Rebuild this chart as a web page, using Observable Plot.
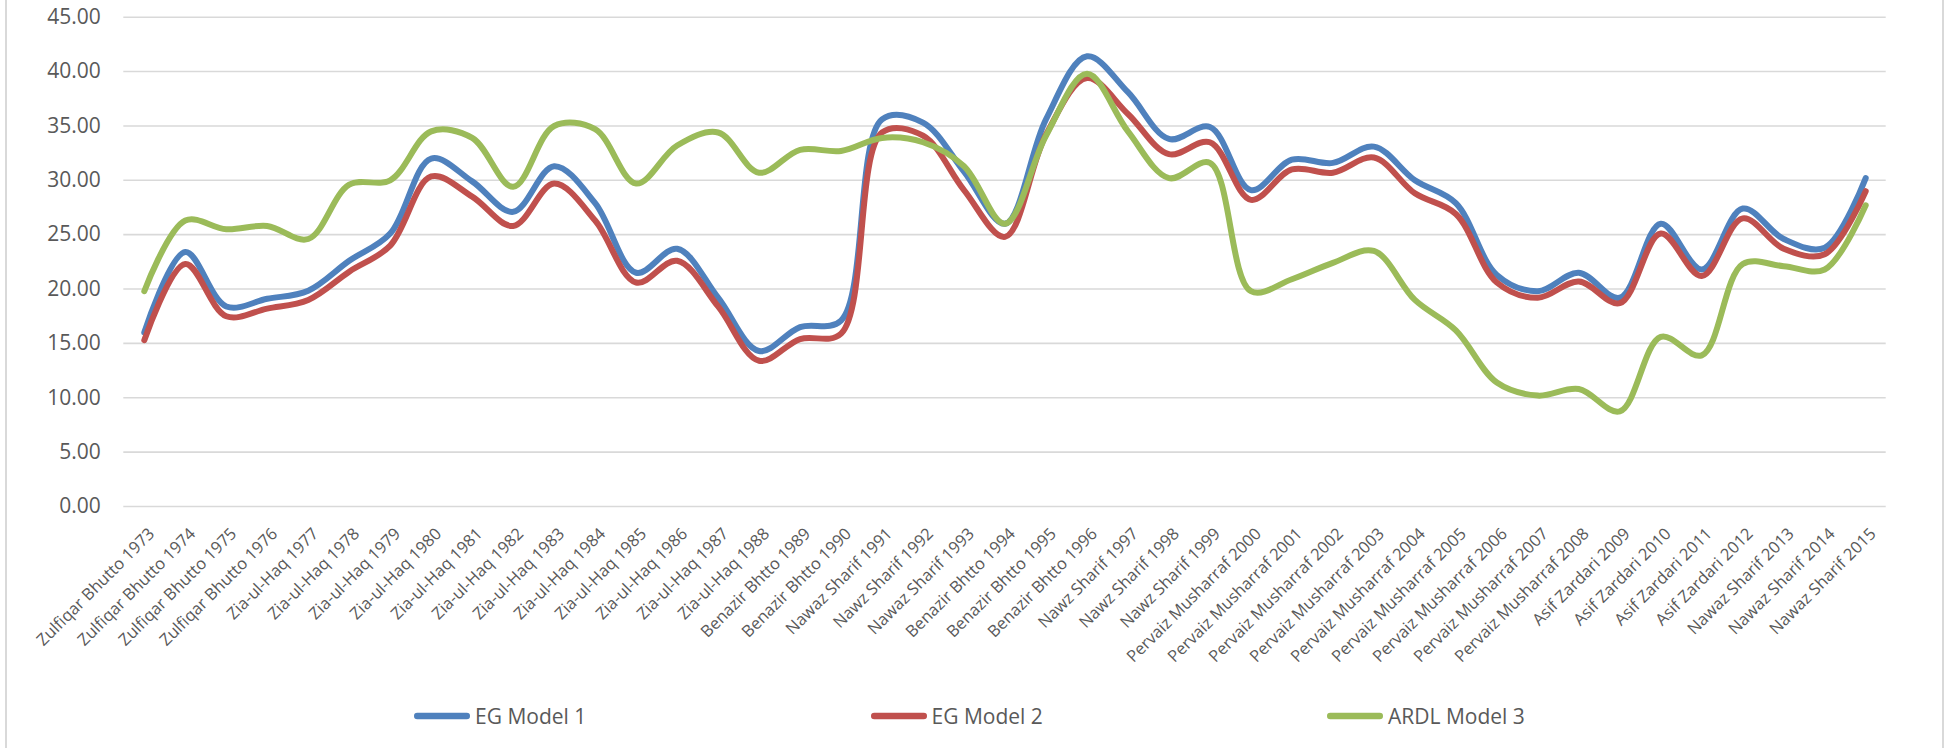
<!DOCTYPE html>
<html>
<head>
<meta charset="utf-8">
<script src="https://cdn.jsdelivr.net/npm/d3@7"></script>
<script src="https://cdn.jsdelivr.net/npm/@observablehq/plot@0.6"></script>
<style>
  html, body { margin: 0; padding: 0; background: #ffffff; }
  body { font-family: "Open Sans", sans-serif; }
  #wrap { position: relative; width: 1950px; height: 748px; overflow: hidden; }
  #frame { position: absolute; left: 5px; top: -2px; width: 1939px; height: 752px;
           box-sizing: border-box; border: 2px solid #d9d9d9; border-top: none; border-bottom: none; }
  #chart { position: absolute; left: 0; top: 0; }
  #legend { position: absolute; left: 414px; top: 700px; height: 32px; display: flex; }
  .item { width: 456.5px; display: flex; align-items: center; height: 32px; }
  .item span { font-size: 21px; color: #595959; margin-left: 5px; line-height: 32px; }
</style>
</head>
<body>
<div id="wrap">
  <div id="frame"></div>
  <div id="chart"></div>
  <div id="legend"></div>
</div>
<script>
const categories = [
  "Zulfiqar Bhutto 1973", "Zulfiqar Bhutto 1974", "Zulfiqar Bhutto 1975", "Zulfiqar Bhutto 1976",
  "Zia-ul-Haq 1977", "Zia-ul-Haq 1978", "Zia-ul-Haq 1979", "Zia-ul-Haq 1980", "Zia-ul-Haq 1981",
  "Zia-ul-Haq 1982", "Zia-ul-Haq 1983", "Zia-ul-Haq 1984", "Zia-ul-Haq 1985", "Zia-ul-Haq 1986",
  "Zia-ul-Haq 1987", "Zia-ul-Haq 1988", "Benazir Bhtto 1989", "Benazir Bhtto 1990",
  "Nawaz Sharif 1991", "Nawz Sharif 1992", "Nawaz Sharif 1993", "Benazir Bhtto 1994",
  "Benazir Bhtto 1995", "Benazir Bhtto 1996", "Nawz Sharif 1997", "Nawz Sharif 1998",
  "Nawz Sharif 1999", "Pervaiz Musharraf 2000", "Pervaiz Musharraf 2001", "Pervaiz Musharraf 2002",
  "Pervaiz Musharraf 2003", "Pervaiz Musharraf 2004", "Pervaiz Musharraf 2005", "Pervaiz Musharraf 2006",
  "Pervaiz Musharraf 2007", "Pervaiz Musharraf 2008", "Asif Zardari 2009", "Asif Zardari 2010",
  "Asif Zardari 2011", "Asif Zardari 2012", "Nawaz Sharif 2013", "Nawaz Sharif 2014", "Nawaz Sharif 2015"
];

const egModel1 = [16.0, 23.4, 18.4, 19.1, 19.85, 22.6, 25.1, 32.0, 29.9, 27.1, 31.3, 27.9, 21.5, 23.7,
  19.2, 14.3, 16.5, 17.1, 35.6, 35.3, 30.8, 26.0, 35.6, 41.4, 38.1, 33.8, 34.9, 29.1, 31.9, 31.6,
  33.1, 30.0, 27.9, 21.3, 19.8, 21.5, 19.2, 26.0, 21.8, 27.4, 24.6, 23.8, 30.2];

const egModel2 = [15.3, 22.3, 17.5, 18.2, 19.0, 21.6, 24.0, 30.35, 28.5, 25.8, 29.7, 26.3, 20.6, 22.6,
  18.4, 13.4, 15.4, 15.9, 34.4, 34.1, 29.1, 24.8, 34.2, 39.4, 36.1, 32.4, 33.5, 28.2, 31.0, 30.7,
  32.1, 28.8, 26.9, 20.6, 19.2, 20.7, 18.7, 25.1, 21.2, 26.5, 23.7, 23.2, 29.0];

const ardlModel3 = [19.8, 26.3, 25.5, 25.8, 24.6, 29.6, 30.0, 34.5, 33.9, 29.4, 35.0, 34.7, 29.7, 33.2,
  34.4, 30.7, 32.8, 32.7, 33.9, 33.5, 31.3, 26.0, 34.1, 39.8, 34.5, 30.2, 31.6, 19.8, 20.9, 22.4,
  23.5, 19.0, 16.2, 11.4, 10.2, 10.8, 8.75, 15.6, 13.9, 22.3, 22.1, 21.8, 27.7];

const seriesNames = ["EG Model 1", "EG Model 2", "ARDL Model 3"];
const seriesColors = ["#4F81BD", "#C0504D", "#9BBB59"];
const yTicks = [0, 5, 10, 15, 20, 25, 30, 35, 40, 45];

const seriesValues = [egModel1, egModel2, ardlModel3];
const rows = [];
seriesNames.forEach((name, s) => {
  categories.forEach((c, i) => rows.push({series: name, category: c, value: seriesValues[s][i]}));
});

const textColor = "#595959";

const chart = Plot.plot({
  width: 1950,
  height: 660,
  marginLeft: 123.3,
  marginRight: 64.3,
  marginTop: 16.7,
  marginBottom: 154,
  style: {fontFamily: "'Open Sans', sans-serif", background: "transparent", overflow: "visible"},
  x: {type: "point", domain: categories, padding: 0.5, axis: null},
  y: {domain: [0, 45], axis: null},
  color: {domain: seriesNames, range: seriesColors},
  marks: [
    Plot.gridY(yTicks, {stroke: "#d9d9d9", strokeOpacity: 1, strokeWidth: 1.6}),
    Plot.text(yTicks, {
      y: d => d, text: d => d.toFixed(2), frameAnchor: "left", textAnchor: "end",
      lineAnchor: "middle", dx: -23, fontSize: 21, fill: textColor
    }),
    Plot.text(categories, {
      x: d => d, text: d => d, frameAnchor: "bottom", rotate: -45, textAnchor: "end",
      lineAnchor: "middle", dx: 7.5, dy: 24.5, fontSize: 16.5, fill: textColor
    }),
    Plot.line(rows, {
      x: "category", y: "value", z: "series", stroke: "series",
      strokeWidth: 6, curve: "catmull-rom", strokeLinecap: "round", strokeLinejoin: "round"
    })
  ]
});
document.getElementById("chart").appendChild(chart);

const legend = d3.select("#legend");
seriesNames.forEach((name, i) => {
  const item = legend.append("div").attr("class", "item");
  const svg = item.append("svg").attr("width", 56).attr("height", 10);
  svg.append("line").attr("x1", 3.25).attr("x2", 52.75).attr("y1", 5).attr("y2", 5)
    .attr("stroke", seriesColors[i]).attr("stroke-width", 6.5).attr("stroke-linecap", "round");
  item.append("span").text(name);
});
</script>
</body>
</html>
